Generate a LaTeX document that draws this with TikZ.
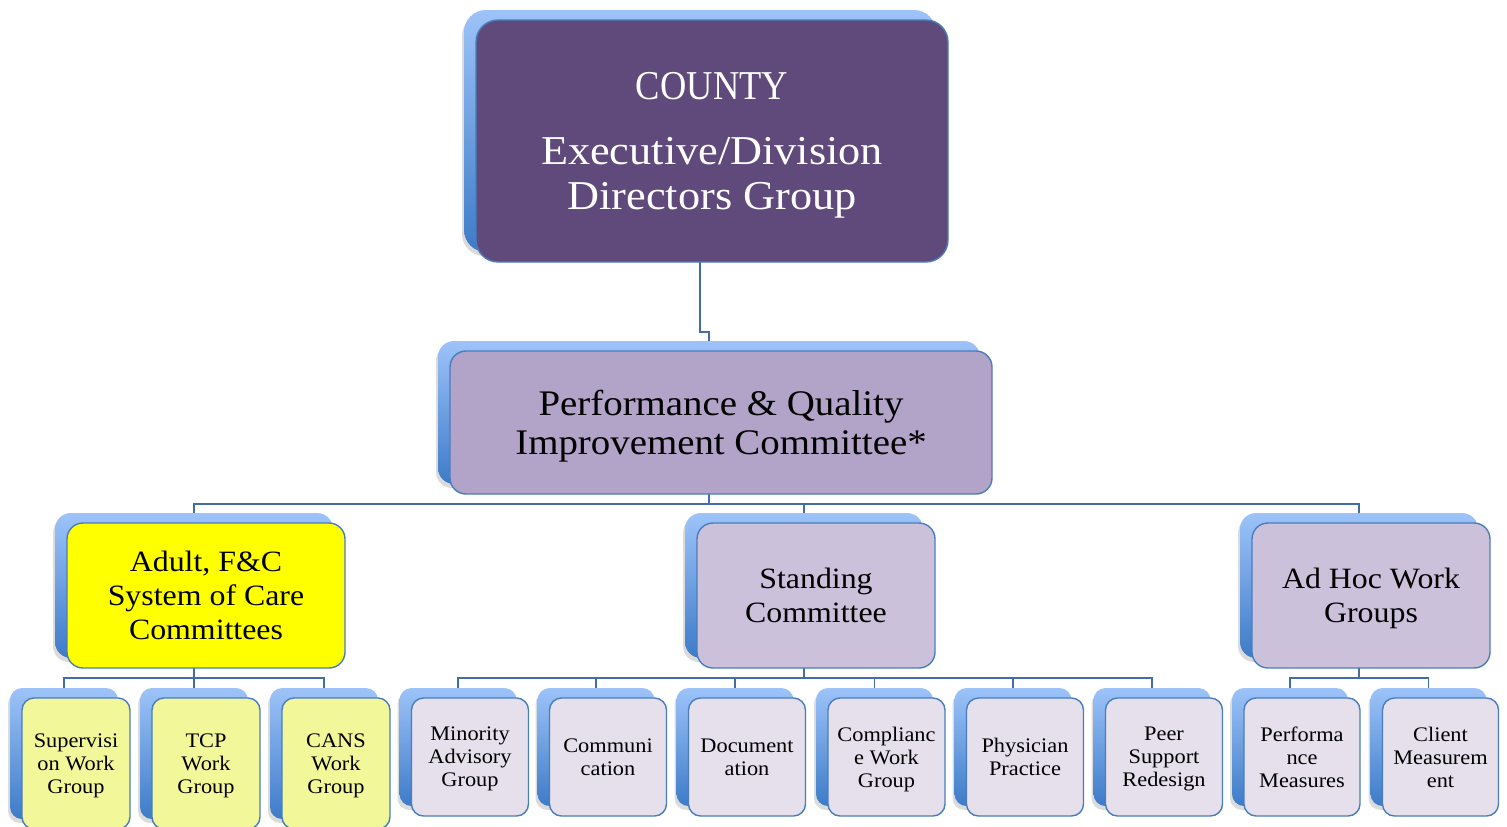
\documentclass[tikz,border=0pt]{standalone}
\usepackage{fontspec}
\setmainfont{Liberation Serif}[FakeStretch=1.08]
\newfontfamily\narrowserif{Liberation Serif}[FakeStretch=0.89]

\definecolor{edgeblue}{HTML}{4A7DBC}
\definecolor{linkblue}{HTML}{416DA8}
\definecolor{backtop}{HTML}{9DC3F9}
\definecolor{backbot}{HTML}{3D7BC8}
\definecolor{execfill}{HTML}{604A7B}
\definecolor{pqfill}{HTML}{B2A3C8}
\definecolor{midfill}{HTML}{CCC1DA}
\definecolor{leaffill}{HTML}{E5E0EC}
\definecolor{socfill}{HTML}{FFFF00}
\definecolor{socleaf}{HTML}{F2F79A}

\pgfdeclarelayer{bg}
\pgfsetlayers{bg,main}

\tikzset{
  shade box/.style={inner sep=0pt, outer sep=0pt, draw=none,
    top color=backtop, bottom color=backbot},
  face box/.style={inner sep=0pt, outer sep=0pt, draw=edgeblue,
    line width=1.4pt, align=center, text=black, text depth=0pt},
  link/.style={draw=linkblue, line width=1.6pt},
  exec text/.style={font=\fontsize{41}{45}\selectfont, text=white},
  pq text/.style={font=\fontsize{36}{39}\selectfont},
  mid text/.style={font=\fontsize{29.5}{34}\selectfont},
  leaf text/.style={font=\fontsize{20.7}{23}\selectfont},
}

% #1 name, #2 centre x, #3 centre y, #4 width, #5 height,
% #6 corner radius, #7 face style, #8 text
\newcommand\orgcard[8]{%
  \fill[black, opacity=0.14, rounded corners=#6pt]
    (#2-#4/2-14, #3-#5/2-6) rectangle ++(#4, #5);
  \node[shade box, minimum width=#4pt, minimum height=#5pt,
        rounded corners=#6pt] (#1b) at (#2-12, #3-10) {};
  \node[face box, #7, minimum width=#4pt, minimum height=#5pt,
        rounded corners=#6pt] (#1) at (#2, #3) {#8};
}

\begin{document}
\begin{tikzpicture}[x=1pt, y=-1pt]
  \useasboundingbox (0,0) rectangle (1507,827);
  \clip (0,0) rectangle (1507,827);

  % top level
  \orgcard{county}{712}{141}{472}{242}{22}{fill=execfill, exec text}
    {{\narrowserif COUNTY}\\[20pt]Executive/Division\\Directors Group}

  % committee
  \orgcard{pqic}{721}{422.5}{542}{143}{16}{fill=pqfill, pq text}
    {Performance \& Quality\\Improvement Committee*}

  % second level
  \orgcard{soc}{206}{595.5}{278}{145}{16}{fill=socfill, mid text}
    {Adult, F\&C\\System of Care\\Committees}
  \orgcard{standing}{816}{595.5}{238}{145}{16}{fill=midfill, mid text}
    {Standing\\Committee}
  \orgcard{adhoc}{1371}{595.5}{238}{145}{16}{fill=midfill, mid text}
    {Ad Hoc Work\\Groups}

  % system of care work groups
  \orgcard{superv}{76}{763.5}{108}{131}{12}{fill=socleaf, leaf text}
    {Supervisi\\on Work\\Group}
  \orgcard{tcp}{206}{763.5}{108}{131}{12}{fill=socleaf, leaf text}
    {TCP\\Work\\Group}
  \orgcard{cans}{336}{763.5}{108}{131}{12}{fill=socleaf, leaf text}
    {CANS\\Work\\Group}

  % standing committee groups
  \orgcard{minority}{470}{757}{117}{118}{12}{fill=leaffill, leaf text}
    {Minority\\Advisory\\Group}
  \orgcard{communi}{608}{757}{117}{118}{12}{fill=leaffill, leaf text}
    {Communi\\cation}
  \orgcard{docu}{747}{757}{117}{118}{12}{fill=leaffill, leaf text}
    {Document\\ation}
  \orgcard{compl}{886.5}{757}{117}{118}{12}{fill=leaffill, leaf text}
    {Complianc\\e Work\\Group}
  \orgcard{physician}{1025}{757}{117}{118}{12}{fill=leaffill, leaf text}
    {Physician\\Practice}
  \orgcard{peer}{1164}{757}{117}{118}{12}{fill=leaffill, leaf text}
    {Peer\\Support\\Redesign}

  % ad hoc groups
  \orgcard{perf}{1302}{757}{116}{118}{12}{fill=leaffill, leaf text}
    {Performa\\nce\\Measures}
  \orgcard{client}{1440.5}{757}{116}{118}{12}{fill=leaffill, leaf text}
    {Client\\Measurem\\ent}

  % connectors
  \coordinate (bend1) at (0,332);
  \coordinate (bar2) at (0,504);
  \coordinate (bar3) at (0,678);
  \begin{pgfonlayer}{bg}
    \draw[link] (countyb.south) -- (countyb.south |- bend1) -| (pqicb.north);

    \draw[link] (pqicb.south) -- (pqicb.south |- bar2);
    \draw[link] (socb.north) |- (adhocb.north |- bar2) -- (adhocb.north);
    \draw[link] (standingb.north) -- (standingb.north |- bar2);

    \draw[link] (socb.south) -- (socb.south |- bar3);
    \draw[link] (supervb.north) |- (cansb.north |- bar3) -- (cansb.north);
    \draw[link] (tcpb.north) -- (tcpb.north |- bar3);

    \draw[link] (standingb.south) -- (standingb.south |- bar3);
    \draw[link] (minorityb.north) |- (peerb.north |- bar3) -- (peerb.north);
    \foreach \n in {communi, docu, compl, physician}
      \draw[link] (\n b.north) -- (\n b.north |- bar3);

    \draw[link] (adhocb.south) -- (adhocb.south |- bar3);
    \draw[link] (perfb.north) |- (clientb.north |- bar3) -- (clientb.north);
  \end{pgfonlayer}
\end{tikzpicture}
\end{document}
